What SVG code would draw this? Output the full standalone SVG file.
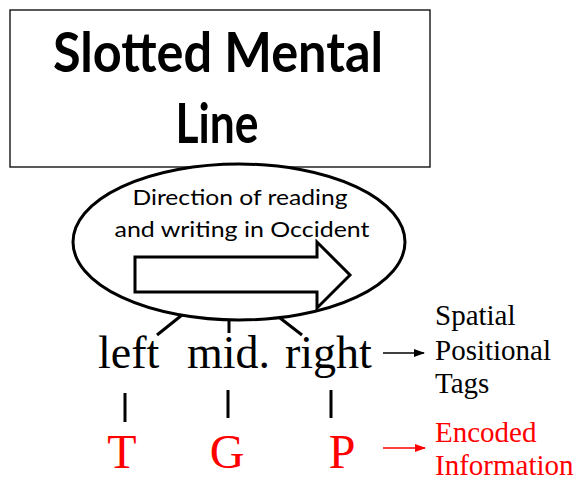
<svg xmlns="http://www.w3.org/2000/svg" width="580" height="480" viewBox="0 0 580 480">
<style>
.title{font-family:Lato,"Open Sans","Liberation Sans",sans-serif;font-weight:bold;font-size:55px;fill:#000;text-anchor:middle}
.cal{font-family:Lato,"Open Sans","Liberation Sans",sans-serif;font-size:21px;fill:#000;text-anchor:middle}
.tm{font-family:"Liberation Serif","Times New Roman",serif;fill:#000}
.red{fill:#FF0000}
.ln{stroke:#000;stroke-width:3;fill:none}
</style>
<defs>
<marker id="ab" markerWidth="11" markerHeight="8" refX="10" refY="4" orient="auto" markerUnits="userSpaceOnUse">
<path d="M0,0 L11,4 L0,8 Z" fill="#000"/>
</marker>
<marker id="ar" markerWidth="11" markerHeight="8" refX="10" refY="4" orient="auto" markerUnits="userSpaceOnUse">
<path d="M0,0 L11,4 L0,8 Z" fill="#FF0000"/>
</marker>
</defs>
<rect width="580" height="480" fill="#fff"/>
<g id="title">
<rect x="10" y="10" width="420" height="157" fill="#fff" stroke="#000" stroke-width="1.3"/>
<text class="title" x="218" y="72" textLength="330" lengthAdjust="spacingAndGlyphs">Slotted Mental</text>
<text class="title" x="217" y="143" textLength="83" lengthAdjust="spacingAndGlyphs">Line</text>
</g>
<g id="direction">
<ellipse cx="239" cy="242" rx="166" ry="78" fill="#fff" stroke="#000" stroke-width="3"/>
<text class="cal" x="240" y="205" textLength="215" lengthAdjust="spacingAndGlyphs">Direction of reading</text>
<text class="cal" x="242" y="237" textLength="255" lengthAdjust="spacingAndGlyphs">and writing in Occident</text>
<path d="M135,257 H317 V242 L350,275 L317,308 V292 H135 Z" fill="#fff" stroke="#000" stroke-width="3"/>
</g>
<g id="connectors">
<line class="ln" x1="182" y1="315" x2="157" y2="335"/>
<line class="ln" x1="229" y1="320" x2="229" y2="333"/>
<line class="ln" x1="280" y1="318" x2="302" y2="335"/>
<line class="ln" x1="125" y1="393" x2="125" y2="422"/>
<line class="ln" x1="228" y1="390" x2="228" y2="418"/>
<line class="ln" x1="331" y1="390" x2="331" y2="418"/>
<line x1="383" y1="353" x2="424" y2="353" stroke="#000" stroke-width="1.5" marker-end="url(#ab)"/>
<line x1="383" y1="448" x2="425" y2="448" stroke="#FF0000" stroke-width="1.5" marker-end="url(#ar)"/>
</g>
<g id="tags">
<text class="tm" x="98" y="368" font-size="46">left</text>
<text class="tm" x="187" y="368" font-size="46">mid.</text>
<text class="tm" x="285" y="368" font-size="46">right</text>
</g>
<g id="tags-label">
<text class="tm" x="435" y="325" font-size="29">Spatial</text>
<text class="tm" x="435" y="360" font-size="29">Positional</text>
<text class="tm" x="435" y="393" font-size="29">Tags</text>
</g>
<g id="encoded">
<text class="tm red" x="122" y="468" font-size="48" text-anchor="middle">T</text>
<text class="tm red" x="227" y="468" font-size="48" text-anchor="middle">G</text>
<text class="tm red" x="342" y="468" font-size="48" text-anchor="middle">P</text>
</g>
<g id="encoded-label">
<text class="tm red" x="435" y="442" font-size="29">Encoded</text>
<text class="tm red" x="435" y="475" font-size="29">Information</text>
</g>
</svg>
